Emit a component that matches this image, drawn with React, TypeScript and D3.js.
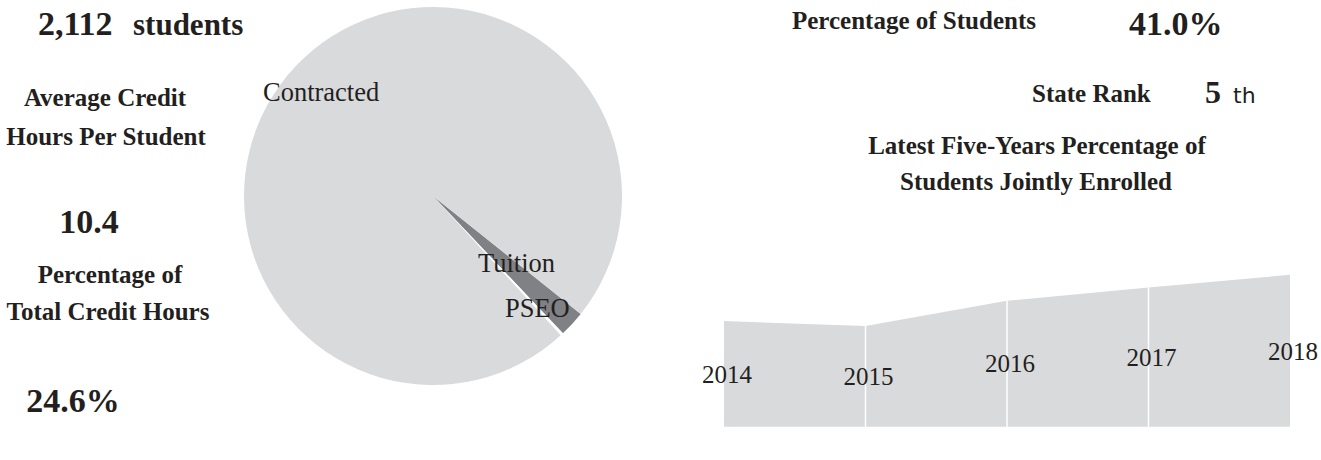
import React from "react";
import * as d3 from "d3";

// ---- data ----
const pieCategories = ["Tuition", "PSEO", "Contracted"];
const pieValues = [2.22, 0.25, 97.53];
const pieColors = ["#808184", "#ffffff", "#d9dadc"];

const years = [2014, 2015, 2016, 2017, 2018];
const jointPct = [28.5, 27.2, 34.0, 37.6, 41.0];

const totalStudents = "2,112";
const avgCredit = "10.4";
const pctCredit = "24.6%";
const pctStudents = "41.0%";
const stateRank = "5";

const W = 1321;
const H = 460;
const FONT = "'Liberation Serif', 'Times New Roman', serif";
const INK = "#231f20";

export default function App() {
  // pie
  const cx = 433;
  const cy = 196;
  const R = 189;
  const start = (128.6 * Math.PI) / 180;
  const pie = d3
    .pie<number>()
    .sort(null)
    .startAngle(start)
    .endAngle(start + 2 * Math.PI)
    .value((d) => d);
  const arcs = pie(pieValues);
  const arc = d3.arc<d3.PieArcDatum<number>>().innerRadius(0).outerRadius(R);

  const labelPos = (i: number) => {
    const a = arcs[i];
    let ang = (a.startAngle + a.endAngle) / 2;
    let r = R * 0.81;
    if (pieCategories[i] === "Tuition") {
      ang = a.startAngle;
      r = R * 0.565;
    }
    return [cx + r * Math.sin(ang), cy - r * Math.cos(ang)];
  };

  // area chart
  const x = d3.scaleLinear().domain([years[0], years[years.length - 1]]).range([724, 1290]);
  const y = d3.scaleLinear().domain([0, 45]).range([426.7, 260]);
  const area = d3
    .area<number>()
    .x((_, i) => x(years[i]))
    .y0(y(0))
    .y1((d) => y(d));

  const boldText = (t: string, px: number, py: number, size: number, anchor = "middle") => (
    <text x={px} y={py} fontSize={size} fontWeight="bold" textAnchor={anchor} fill={INK} fontFamily={FONT}>
      {t}
    </text>
  );

  return (
    <svg width={W} height={H} style={{ position: "absolute", left: 0, top: 0, background: "#fff" }}>
      {/* left column */}
      {boldText(totalStudents, 38, 35, 34, "start")}
      {boldText("students", 133, 35, 31, "start")}
      {boldText("Average Credit", 105, 106, 25)}
      {boldText("Hours Per Student", 106, 145, 25)}
      {boldText(avgCredit, 89, 233, 34)}
      {boldText("Percentage of", 110, 283, 25)}
      {boldText("Total Credit Hours", 108, 320, 25)}
      {boldText(pctCredit, 73, 412, 34)}

      {/* pie */}
      <g transform={`translate(${cx},${cy})`}>
        {arcs.map((a, i) => (
          <path key={pieCategories[i]} d={arc(a) || ""} fill={pieColors[i]} />
        ))}
      </g>
      {arcs.map((a, i) => {
        const [lx, ly] = labelPos(i);
        return (
          <text
            key={"l" + i}
            x={lx}
            y={ly}
            dy="0.35em"
            textAnchor="middle"
            fontSize={26.5}
            fill={INK}
            fontFamily={FONT}
          >
            {pieCategories[i]}
          </text>
        );
      })}

      {/* right header */}
      {boldText("Percentage of Students", 792, 29, 25, "start")}
      {boldText(pctStudents, 1129, 35, 34, "start")}
      {boldText("State Rank", 1032, 102, 25, "start")}
      {boldText(stateRank, 1205, 103, 32, "start")}
      <text x={1233} y={103} fontSize={22} fill={INK} fontFamily="'DejaVu Sans', sans-serif">
        th
      </text>
      {boldText("Latest Five-Years Percentage of", 1037, 154, 25)}
      {boldText("Students Jointly Enrolled", 1036, 190, 25)}

      {/* area chart */}
      <path d={area(jointPct) || ""} fill="#d9dadc" />
      {years.slice(1, -1).map((yr, j) => (
        <line
          key={"sep" + yr}
          x1={x(yr)}
          x2={x(yr)}
          y1={y(0)}
          y2={y(jointPct[j + 1])}
          stroke="#ffffff"
          strokeWidth={1.5}
        />
      ))}
      {years.map((yr, i) => (
        <text
          key={"yr" + yr}
          x={x(yr) + 3}
          y={(y(jointPct[i]) + y(0)) / 2}
          dy="0.35em"
          textAnchor="middle"
          fontSize={25}
          fill={INK}
          fontFamily={FONT}
        >
          {yr}
        </text>
      ))}
    </svg>
  );
}
